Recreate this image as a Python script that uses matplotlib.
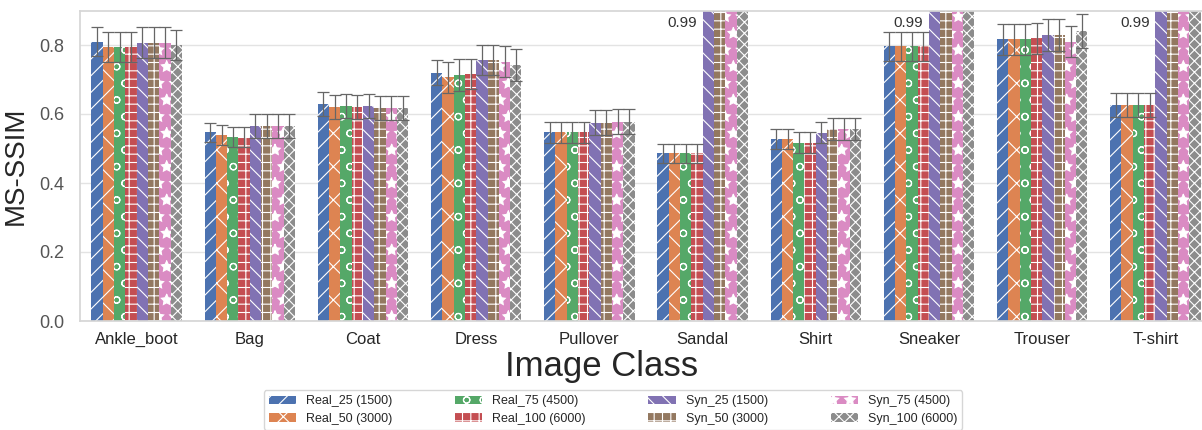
import numpy as np
import matplotlib
matplotlib.use("Agg")
import matplotlib.pyplot as plt
import seaborn as sns

sns.set_theme(style="whitegrid")
plt.rcParams['font.family'] = ['Liberation Sans', 'DejaVu Sans']
plt.rcParams['hatch.color'] = 'white'
plt.rcParams['hatch.linewidth'] = 0.8

classes = ['Ankle_boot', 'Bag', 'Coat', 'Dress', 'Pullover', 'Sandal',
           'Shirt', 'Sneaker', 'Trouser', 'T-shirt']

series_names = ['Real_25 (1500)', 'Real_50 (3000)', 'Real_75 (4500)', 'Real_100 (6000)',
                'Syn_25 (1500)', 'Syn_50 (3000)', 'Syn_75 (4500)', 'Syn_100 (6000)']

real_25 = [0.810, 0.547, 0.629, 0.720, 0.547, 0.486, 0.527, 0.797, 0.816, 0.626]
real_50 = [0.795, 0.539, 0.621, 0.706, 0.547, 0.486, 0.527, 0.797, 0.816, 0.626]
real_75 = [0.795, 0.534, 0.624, 0.713, 0.547, 0.486, 0.517, 0.797, 0.816, 0.626]
real_100 = [0.795, 0.534, 0.621, 0.716, 0.547, 0.486, 0.517, 0.797, 0.820, 0.626]
syn_25 = [0.807, 0.565, 0.624, 0.757, 0.575, 0.99, 0.546, 0.99, 0.829, 0.99]
syn_50 = [0.807, 0.565, 0.617, 0.757, 0.575, 0.99, 0.557, 0.99, 0.829, 0.99]
syn_75 = [0.807, 0.565, 0.617, 0.752, 0.578, 0.99, 0.557, 0.99, 0.810, 0.99]
syn_100 = [0.800, 0.565, 0.617, 0.742, 0.578, 0.99, 0.557, 0.99, 0.840, 0.99]

err_real_25 = [0.043, 0.028, 0.035, 0.037, 0.031, 0.027, 0.029, 0.042, 0.045, 0.034]
err_real_50 = [0.044, 0.029, 0.035, 0.046, 0.031, 0.027, 0.029, 0.042, 0.045, 0.034]
err_real_75 = [0.044, 0.029, 0.035, 0.045, 0.031, 0.027, 0.031, 0.042, 0.045, 0.034]
err_real_100 = [0.044, 0.029, 0.035, 0.044, 0.031, 0.027, 0.031, 0.042, 0.045, 0.034]
err_syn_25 = [0.044, 0.035, 0.035, 0.043, 0.037, 0.01, 0.030, 0.01, 0.045, 0.01]
err_syn_50 = [0.044, 0.035, 0.035, 0.043, 0.037, 0.01, 0.031, 0.01, 0.045, 0.01]
err_syn_75 = [0.044, 0.035, 0.035, 0.046, 0.037, 0.01, 0.031, 0.01, 0.045, 0.01]
err_syn_100 = [0.044, 0.035, 0.035, 0.046, 0.037, 0.01, 0.031, 0.01, 0.050, 0.01]

values = [real_25, real_50, real_75, real_100, syn_25, syn_50, syn_75, syn_100]
errors = [err_real_25, err_real_50, err_real_75, err_real_100,
          err_syn_25, err_syn_50, err_syn_75, err_syn_100]

colors = sns.color_palette("deep", 8)
hatches = ['//', 'x', 'o', '++', '\\\\', '++', '*', 'xxx']

W, H = 1202, 430
fig = plt.figure(figsize=(W / 100, H / 100), dpi=100)
# the plotting area runs slightly past the right edge of the canvas
ax_left, ax_right, ax_top, ax_bottom = 80, 1212, 10.5, 321
ax = fig.add_axes([ax_left / W, 1 - ax_bottom / H,
                   (ax_right - ax_left) / W, (ax_bottom - ax_top) / H])

x = np.arange(len(classes))
n = len(values)
width = 0.8 / n
for i, (vals, errs) in enumerate(zip(values, errors)):
    pos = x - 0.4 + width * (i + 0.5)
    ax.bar(pos, vals, width, color=colors[i], hatch=hatches[i],
           edgecolor='white', linewidth=0, label=series_names[i],
           yerr=errs, capsize=4,
           error_kw=dict(ecolor='#666666', elinewidth=0.9, capthick=0.9))

# annotate the clipped synthetic bars
for j, cls in enumerate(classes):
    top = max(v[j] for v in values)
    if top > 0.9:
        ax.text(x[j] - 0.05, 0.865, f"{top:.2f}", ha='right', va='center',
                fontsize=11, color='#333333')

ax.set_xlim(-0.5, 9.5)
ax.set_ylim(0, 0.9)
ax.set_yticks([0.0, 0.2, 0.4, 0.6, 0.8])
ax.set_yticklabels(['0.0', '0.2', '0.4', '0.6', '0.8'])
ax.set_xticks(x)
ax.set_xticklabels(classes)
ax.tick_params(axis='x', labelsize=12, pad=2, colors='#262626')
ax.tick_params(axis='y', labelsize=13, pad=5, colors='#555555')
ax.xaxis.grid(False)
ax.yaxis.grid(True, color='#e3e3e3', linewidth=1.0)
ax.set_axisbelow(True)
for s in ax.spines.values():
    s.set_color('#d6d6d6')

ax.set_xlabel('Image Class', fontsize=25, labelpad=0)
ax.xaxis.set_label_coords((602 - ax_left) / (ax_right - ax_left), -0.092)
ax.xaxis.label.set_verticalalignment('top')
ax.set_ylabel('MS-SSIM', fontsize=20, labelpad=8)

ax.legend(loc='upper center', bbox_to_anchor=(613 / W, 1 - 384 / H),
          bbox_transform=fig.transFigure, ncol=4, fontsize=9,
          frameon=True, handlelength=2.2, columnspacing=5.0,
          labelspacing=0.45, borderpad=0.4)

fig.savefig('out.png', dpi=100)
